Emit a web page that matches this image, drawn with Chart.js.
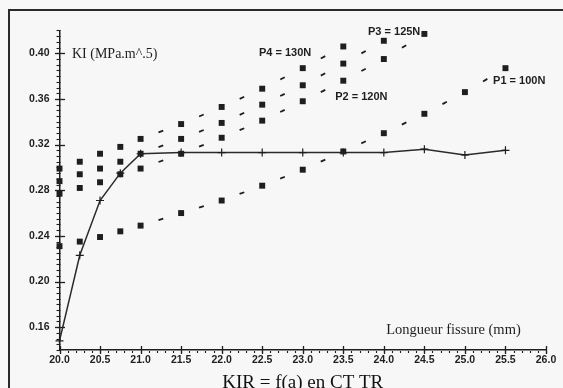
<!DOCTYPE html>
<html>
<head>
<meta charset="utf-8">
<script src="https://cdn.jsdelivr.net/npm/chart.js@4/dist/chart.umd.min.js"></script>
<style>
  html, body { margin: 0; padding: 0; background: #f7f7f7; }
  #wrap { position: relative; width: 563px; height: 388px; }
  canvas { display: block; }
</style>
</head>
<body>
<div id="wrap"><canvas id="chart" width="563" height="388"></canvas></div>
<script>
// Crack length a (mm) and stress intensity KI (MPa.m^.5)
const lengthsKIR = [20.0, 20.25, 20.5, 20.75, 21.0, 21.5, 22.0, 22.5, 23.0, 23.5, 24.0, 24.5, 25.0, 25.5];
const valuesKIR  = [0.148, 0.223, 0.271, 0.295, 0.312, 0.313, 0.313, 0.313, 0.313, 0.313, 0.313, 0.316, 0.311, 0.315];

const lengthsP1 = [20.0, 20.25, 20.5, 20.75, 21.0, 21.5, 22.0, 22.5, 23.0, 23.5, 24.0, 24.5, 25.0, 25.5];
const valuesP1  = [0.231, 0.235, 0.239, 0.244, 0.249, 0.260, 0.271, 0.284, 0.298, 0.314, 0.330, 0.347, 0.366, 0.387];

const lengthsP2 = [20.0, 20.25, 20.5, 20.75, 21.0, 21.5, 22.0, 22.5, 23.0, 23.5, 24.0, 24.5];
const valuesP2  = [0.277, 0.282, 0.287, 0.294, 0.299, 0.312, 0.326, 0.341, 0.358, 0.376, 0.395, 0.417];

const lengthsP3 = [20.0, 20.25, 20.5, 20.75, 21.0, 21.5, 22.0, 22.5, 23.0, 23.5, 24.0];
const valuesP3  = [0.288, 0.294, 0.299, 0.305, 0.312, 0.325, 0.339, 0.355, 0.372, 0.391, 0.411];

const lengthsP4 = [20.0, 20.25, 20.5, 20.75, 21.0, 21.5, 22.0, 22.5, 23.0, 23.5];
const valuesP4  = [0.299, 0.305, 0.312, 0.318, 0.325, 0.338, 0.353, 0.369, 0.387, 0.406];

// Axis ticks
const xTickValues = [20.0, 20.5, 21.0, 21.5, 22.0, 22.5, 23.0, 23.5, 24.0, 24.5, 25.0, 25.5, 26.0];
const yTickValues = [0.16, 0.20, 0.24, 0.28, 0.32, 0.36, 0.40];
const X_MIN = 20, X_MAX = 26, X_MINOR = 0.1;
const Y_MIN = 0.14, Y_MAX = 0.42, Y_MINOR = 0.005;

// Text placed inside the plot, anchored in axis units (left edge, vertical middle)
const notes = [
  { text: 'KI (MPa.m^.5)',          x: 20.154, y: 0.3994, font: '14px "Liberation Serif"' },
  { text: 'Longueur fissure (mm)',  x: 24.03,  y: 0.157,  font: '14.5px "Liberation Serif"' },
  { text: 'P4 = 130N',              x: 22.46,  y: 0.4003, font: 'bold 11px "Liberation Sans"' },
  { text: 'P3 = 125N',              x: 23.805, y: 0.4188, font: 'bold 11px "Liberation Sans"' },
  { text: 'P2 = 120N',              x: 23.40,  y: 0.3619, font: 'bold 11px "Liberation Sans"' },
  { text: 'P1 = 100N',              x: 25.347, y: 0.3760, font: 'bold 11px "Liberation Sans"' }
];

const INK = '#1e1e1e';
const pts = (xs, ys) => xs.map((x, i) => ({ x, y: ys[i] }));

// One short dash centred between widely spaced squares; the trailing gap keeps
// each segment's style distinct so every segment restarts its own pattern.
const DASH = 5;
function segmentDash(xs) {
  return ctx => {
    const k = ctx.p0DataIndex;
    const gapX = xs[ctx.p1DataIndex] - xs[ctx.p0DataIndex];
    if (gapX < 0.4) return [0, 1000 + k];
    const L = Math.hypot(ctx.p1.x - ctx.p0.x, ctx.p1.y - ctx.p0.y);
    const g = Math.max(0, (L - DASH) / 2);
    return [0, g, DASH, 1000 + k];
  };
}

function squareSeries(label, xs, ys) {
  return {
    label,
    data: pts(xs, ys),
    borderColor: INK,
    borderWidth: 1.8,
    pointStyle: 'rect',
    pointRadius: 4.2,
    pointBorderWidth: 0,
    pointBackgroundColor: INK,
    fill: false,
    clip: false,
    segment: { borderDash: segmentDash(xs) }
  };
}

const tickMarks = {
  id: 'tickMarks',
  afterDatasetsDraw(chart) {
    const { ctx, chartArea, scales: { x, y } } = chart;
    const ax = Math.round(chartArea.left);
    const ay = Math.round(chartArea.bottom);
    ctx.save();
    ctx.strokeStyle = INK;
    ctx.lineCap = 'butt';
    // y axis: minor ticks outside, major ticks crossing the axis
    ctx.lineWidth = 1.1;
    const ny = Math.round((Y_MAX - Y_MIN) / Y_MINOR);
    for (let i = 0; i <= ny; i++) {
      const v = Y_MIN + i * Y_MINOR;
      const p = Math.round(y.getPixelForValue(v)) + 0.5;
      ctx.beginPath(); ctx.moveTo(ax - 3.5, p); ctx.lineTo(ax + 0.5, p); ctx.stroke();
    }
    ctx.lineWidth = 1.3;
    yTickValues.forEach(v => {
      const p = Math.round(y.getPixelForValue(v)) + 0.5;
      ctx.beginPath(); ctx.moveTo(ax - 5, p); ctx.lineTo(ax + 5, p); ctx.stroke();
    });
    // x axis: minor dots below, major ticks crossing the axis
    ctx.lineWidth = 1.1;
    const nx = Math.round((X_MAX - X_MIN) / X_MINOR);
    for (let i = 0; i <= nx; i++) {
      const v = X_MIN + i * X_MINOR;
      const p = Math.round(x.getPixelForValue(v)) + 0.5;
      ctx.beginPath(); ctx.moveTo(p, ay + 1); ctx.lineTo(p, ay + 3); ctx.stroke();
    }
    ctx.lineWidth = 1.3;
    xTickValues.forEach(v => {
      const p = Math.round(x.getPixelForValue(v)) + 0.5;
      ctx.beginPath(); ctx.moveTo(p, ay - 4); ctx.lineTo(p, ay + 4); ctx.stroke();
    });
    // text inside the plot
    ctx.fillStyle = INK;
    ctx.textAlign = 'left';
    ctx.textBaseline = 'middle';
    notes.forEach(n => {
      ctx.font = n.font;
      ctx.fillText(n.text, x.getPixelForValue(n.x), y.getPixelForValue(n.y));
    });
    ctx.restore();
  }
};

// Page frame around the figure
const frame = {
  id: 'frame',
  beforeDraw(chart) {
    const { ctx, width, height } = chart;
    ctx.save();
    ctx.strokeStyle = '#2a2a2a';
    ctx.lineWidth = 2;
    ctx.beginPath();
    ctx.moveTo(9, height);
    ctx.lineTo(9, 10);
    ctx.lineTo(width, 10);
    ctx.stroke();
    ctx.restore();
  }
};

new Chart(document.getElementById('chart'), {
  type: 'line',
  data: {
    datasets: [
      {
        label: 'KIR',
        data: pts(lengthsKIR, valuesKIR),
        borderColor: '#2a2a2a',
        borderWidth: 1.5,
        pointStyle: 'cross',
        pointRadius: 4,
        pointBorderWidth: 1.2,
        pointBorderColor: INK,
        fill: false,
        clip: false,
        tension: 0
      },
      squareSeries('P1 = 100N', lengthsP1, valuesP1),
      squareSeries('P2 = 120N', lengthsP2, valuesP2),
      squareSeries('P3 = 125N', lengthsP3, valuesP3),
      squareSeries('P4 = 130N', lengthsP4, valuesP4)
    ]
  },
  options: {
    responsive: false,
    animation: false,
    devicePixelRatio: 1,
    layout: { padding: { left: 9.5, top: 30.5, right: 17, bottom: 0 } },
    plugins: { legend: { display: false }, tooltip: { enabled: false } },
    scales: {
      x: {
        type: 'linear',
        min: X_MIN, max: X_MAX,
        afterBuildTicks: s => { s.ticks = xTickValues.map(v => ({ value: v })); },
        afterFit: s => { s.height = 38; },
        ticks: {
          callback: v => Number(v).toFixed(1),
          font: { family: 'Liberation Sans', size: 10.5, weight: 'bold' },
          color: INK, padding: 4, maxRotation: 0, autoSkip: false
        },
        grid: { display: false, drawTicks: false },
        border: { display: true, color: INK, width: 1.5 },
        title: {
          display: true, text: 'KIR = f(a) en CT TR',
          font: { family: 'Liberation Serif', size: 19 },
          color: '#111', padding: { top: 0, bottom: -6.5 }
        }
      },
      y: {
        type: 'linear',
        min: Y_MIN, max: Y_MAX,
        afterBuildTicks: s => { s.ticks = yTickValues.map(v => ({ value: v })); },
        afterFit: s => { s.width = 50; },
        ticks: {
          callback: v => Number(v).toFixed(2),
          font: { family: 'Liberation Sans', size: 10.5, weight: 'bold' },
          color: INK, padding: 10
        },
        grid: { display: false, drawTicks: false },
        border: { display: true, color: INK, width: 1.5 }
      }
    }
  },
  plugins: [frame, tickMarks]
});
</script>
</body>
</html>
